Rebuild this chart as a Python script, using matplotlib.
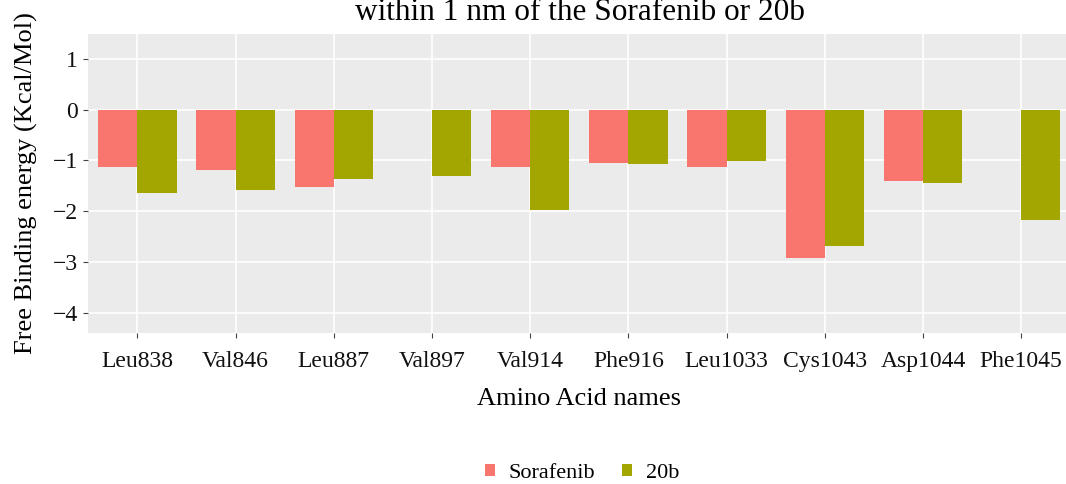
import matplotlib
matplotlib.use("Agg")
import matplotlib.pyplot as plt
import matplotlib.patches as mpatches
import numpy as np

categories = ["Leu838", "Val846", "Leu887", "Val897", "Val914", "Phe916",
              "Leu1033", "Cys1043", "Asp1044", "Phe1045"]
sorafenib = [-1.13, -1.20, -1.53, np.nan, -1.14, -1.06, -1.14, -2.92, -1.41, np.nan]
b20 = [-1.64, -1.58, -1.37, -1.30, -1.97, -1.08, -1.01, -2.69, -1.45, -2.17]
series_names = ["Sorafenib", "20b"]
colors = ["#F8766D", "#A3A500"]
yticks = [1, 0, -1, -2, -3, -4]

plt.rcParams['font.family'] = ['Liberation Serif', 'DejaVu Serif']

W, H = 1066, 484
fig = plt.figure(figsize=(W / 100, H / 100), dpi=100)
left_px, top_px, bottom_px = 88.3, 34.0, 333.3
unit_px = 98.2
ax = fig.add_axes([left_px / W, (H - bottom_px) / H, 10 * unit_px / W, (bottom_px - top_px) / H])
ax.set_facecolor("#EBEBEB")
for s in ax.spines.values():
    s.set_visible(False)

x = np.arange(len(categories))
bw = 0.4
ax.bar(x - bw / 2, sorafenib, width=bw, color=colors[0], zorder=3)
ax.bar(x + bw / 2, b20, width=bw, color=colors[1], zorder=3)

ax.set_xlim(-0.5, 9.5)
ax.set_ylim(-4.41, 1.49)
ax.set_xticks(x)
ax.set_xticklabels(categories, fontsize=17, color="#111111")
ax.set_yticks(yticks)
ax.set_yticklabels([str(v).replace("-", "\u2212") for v in yticks], fontsize=17, color="#111111")
ax.grid(True, color="white", linewidth=1.2, zorder=0)
ax.set_axisbelow(True)
ax.tick_params(axis="both", length=3.6, width=0.8, color="#444444")
ax.tick_params(axis="x", pad=9.5)
ax.tick_params(axis="y", pad=4)

ax.set_xlabel("Amino Acid names", fontsize=19, labelpad=11)
fig.text(26 / W, 1 - 183 / H, "Free Binding energy (Kcal/Mol)", fontsize=19,
         rotation=90, ha="center", va="center")

fig.text(580 / W, 1 - 20 / H, "within 1 nm of the Sorafenib or 20b", fontsize=22.5,
         ha="center", va="baseline")

handles = [mpatches.Patch(facecolor=c, edgecolor="none", label=n) for c, n in zip(colors, series_names)]
fig.legend(handles=handles, loc="center", bbox_to_anchor=(582 / W, 1 - 473 / H), ncol=2,
           frameon=False, fontsize=16, handlelength=0.45, handleheight=0.45,
           handletextpad=0.62, columnspacing=1.2, borderaxespad=0, borderpad=0)

fig.savefig("out.png", dpi=100)
